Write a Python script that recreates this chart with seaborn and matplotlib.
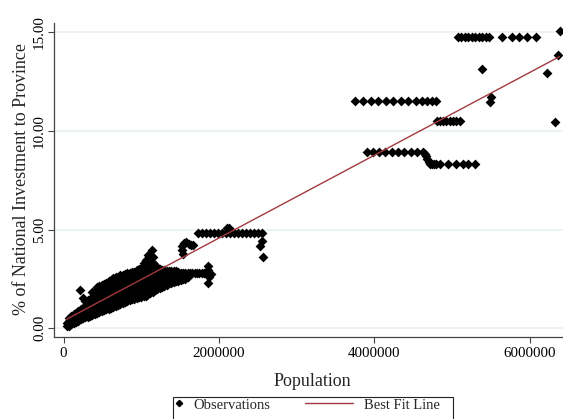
import matplotlib
matplotlib.use("Agg")
import matplotlib.pyplot as plt
import pandas as pd
import seaborn as sns
from matplotlib.lines import Line2D
from matplotlib.patches import Rectangle

# ---------------- data ----------------
# dense cluster of small provinces: population -> shares observed
cluster = {
    40000: [0.10, 0.28],
    70000: [0.14, 0.35, 0.52],
    100000: [0.20, 0.40, 0.60],
    130000: [0.26, 0.48, 0.70],
    160000: [0.32, 0.55, 0.78],
    190000: [0.38, 0.62, 0.88],
    210000: [1.92],
    220000: [0.45, 0.70, 0.98],
    250000: [0.50, 0.78, 1.05, 1.55],
    280000: [0.55, 0.85, 1.12, 1.40],
    310000: [0.58, 0.88, 1.18, 1.45],
    340000: [0.62, 0.92, 1.22, 1.50],
    370000: [0.68, 0.95, 1.25, 1.55, 1.85],
    400000: [0.72, 1.00, 1.30, 1.60, 1.90],
    430000: [0.78, 1.05, 1.35, 1.65, 1.95, 2.08],
    460000: [0.82, 1.10, 1.40, 1.70, 2.00, 2.12],
    490000: [0.88, 1.15, 1.45, 1.75, 2.05, 2.18],
    520000: [0.92, 1.20, 1.50, 1.80, 2.10, 2.25],
    550000: [0.96, 1.25, 1.55, 1.85, 2.15, 2.30],
    580000: [1.00, 1.30, 1.60, 1.90, 2.20, 2.40],
    610000: [1.05, 1.35, 1.65, 1.95, 2.25, 2.45],
    640000: [1.08, 1.38, 1.68, 1.98, 2.28, 2.55],
    670000: [1.12, 1.42, 1.72, 2.02, 2.32, 2.58],
    700000: [1.18, 1.48, 1.78, 2.08, 2.38, 2.62],
    730000: [1.25, 1.52, 1.82, 2.12, 2.42, 2.68],
    760000: [1.30, 1.58, 1.88, 2.18, 2.48, 2.72],
    790000: [1.34, 1.62, 1.92, 2.22, 2.52, 2.75],
    820000: [1.38, 1.66, 1.96, 2.26, 2.56, 2.78],
    850000: [1.44, 1.72, 2.00, 2.30, 2.60, 2.80],
    880000: [1.48, 1.76, 2.05, 2.35, 2.62, 2.83],
    910000: [1.50, 1.80, 2.10, 2.40, 2.65, 2.86],
    940000: [1.54, 1.84, 2.14, 2.44, 2.72, 2.95],
    970000: [1.57, 1.86, 2.16, 2.46, 2.75, 3.00],
    1000000: [1.60, 1.90, 2.20, 2.50, 2.80, 3.05],
    1030000: [1.63, 1.92, 2.22, 2.52, 2.82, 3.12, 3.30],
    1060000: [1.66, 1.95, 2.25, 2.55, 2.85, 3.15, 3.45],
    1090000: [1.72, 2.00, 2.30, 2.60, 2.90, 3.20, 3.50, 3.72],
    1120000: [1.78, 2.05, 2.35, 2.65, 2.95, 3.25, 3.50],
    1135000: [3.98],
    1150000: [1.85, 2.10, 2.40, 2.70, 3.00, 3.30, 3.62],
    1180000: [1.92, 2.15, 2.45, 2.75, 3.00, 3.20],
    1210000: [1.98, 2.20, 2.50, 2.80, 3.05],
    1240000: [2.02, 2.28, 2.55, 2.82, 3.00],
    1270000: [2.08, 2.32, 2.58, 2.85, 2.98],
    1300000: [2.12, 2.38, 2.62, 2.88, 2.95],
    1330000: [2.20, 2.45, 2.68, 2.90],
    1360000: [2.28, 2.50, 2.72, 2.92],
    1390000: [2.32, 2.55, 2.78, 2.92],
    1420000: [2.35, 2.58, 2.80, 2.90],
    1450000: [2.38, 2.60, 2.82, 2.90],
    1480000: [2.42, 2.62, 2.85],
    1510000: [2.45, 2.65, 2.82],
    1540000: [2.48, 2.68, 2.80],
    1570000: [2.52, 2.72, 2.80],
    1600000: [2.58, 2.79],
}

# mid-sized provinces (individual observations)
mid_pop = [1630000, 1660000, 1690000, 1720000, 1750000, 1780000, 1810000,
           1840000, 1864000, 1864000, 1870000, 1860000, 1900000,
           1520000, 1550000, 1580000, 1610000, 1640000, 1670000, 1530000, 1540000,
           1732000, 1783000, 1835000, 1886000, 1938000, 1989000, 2041000,
           2092000, 2144000, 2195000, 2247000, 2298000, 2350000, 2401000,
           2453000, 2504000, 2556000, 2110000, 2135000,
           2552000, 2530000, 2565000]
mid_share = [2.79, 2.79, 2.79, 2.79, 2.79, 2.79, 2.79,
             2.79, 3.17, 2.95, 2.60, 2.31, 2.75,
             4.18, 4.30, 4.35, 4.28, 4.22, 4.20, 3.98, 3.76,
             4.83, 4.83, 4.83, 4.83, 4.83, 4.83, 4.83,
             4.83, 4.83, 4.83, 4.83, 4.83, 4.83, 4.83,
             4.83, 4.83, 4.83, 5.08, 5.10,
             4.44, 4.17, 3.60]

# large provinces
large_pop = [3753000, 3852000, 3955000, 4053000, 4152000, 4246000, 4341000,
             4439000, 4538000, 4612000, 4684000, 4740000, 4796000,
             4810000, 4850000, 4890000, 4930000, 4970000, 5010000, 5050000, 5100000,
             3910000, 3989000, 4066000, 4139000, 4226000, 4311000, 4388000,
             4470000, 4548000, 4625000,
             4650000, 4668000, 4685000, 4700000,
             4720000, 4745000, 4770000, 4796000, 4848000, 4950000, 5050000,
             5148000, 5210000, 5298000,
             5079000, 5124000, 5169000, 5214000, 5259000, 5304000, 5349000,
             5394000, 5439000, 5478000, 5642000, 5771000, 5868000, 5964000, 6080000,
             5392000, 5500000, 5490000, 6229000, 6371000, 6393000, 6328000]
large_share = [11.54, 11.54, 11.54, 11.54, 11.54, 11.54, 11.54,
               11.54, 11.54, 11.54, 11.54, 11.54, 11.54,
               10.52, 10.52, 10.52, 10.52, 10.52, 10.52, 10.52, 10.52,
               8.95, 8.95, 8.95, 8.95, 8.95, 8.95, 8.95,
               8.95, 8.95, 8.95,
               8.85, 8.72, 8.58, 8.45,
               8.33, 8.33, 8.33, 8.33, 8.33, 8.33, 8.33,
               8.33, 8.33, 8.33,
               14.78, 14.78, 14.78, 14.78, 14.78, 14.78, 14.78,
               14.78, 14.78, 14.78, 14.78, 14.78, 14.78, 14.78, 14.78,
               13.14, 11.74, 11.49, 12.92, 13.85, 15.07, 10.47]

# best-fit line end points
fit_pop = [40000, 6385000]
fit_share = [0.46, 13.77]

x_ticks = [0, 2000000, 4000000, 6000000]
x_tick_labels = ["0", "2000000", "4000000", "6000000"]
y_ticks = [0, 5, 10, 15]
y_tick_labels = ["0.00", "5.00", "10.00", "15.00"]

# ---------------- build table ----------------
pop_all, share_all = [], []
for p, vals in cluster.items():
    for v in vals:
        pop_all.append(p)
        share_all.append(v)
pop_all += mid_pop + large_pop
share_all += mid_share + large_share
df = pd.DataFrame({"population": pop_all, "share": share_all})
fit_df = pd.DataFrame({"population": fit_pop, "share": fit_share})

# ---------------- plot ----------------
sns.set_theme(style="white")
plt.rcParams["font.family"] = ["Liberation Serif", "DejaVu Serif"]

FIT_COLOR = "#a3393e"
fig = plt.figure(figsize=(5.63, 4.19), dpi=100)
ax = fig.add_axes([0.09645, 0.19499, 0.90355, 0.75084])

sns.scatterplot(data=df, x="population", y="share", marker="D", s=25,
                color="black", linewidth=0, ax=ax, legend=False, zorder=3)
sns.lineplot(data=fit_df, x="population", y="share", color=FIT_COLOR,
             lw=1.0, ax=ax, estimator=None, zorder=4)

ax.set_xlim(-118500, 6431000)
ax.set_ylim(-0.456, 15.49)

ax.set_xticks(x_ticks)
ax.set_xticklabels(x_tick_labels)
ax.set_yticks(y_ticks)
ax.set_yticklabels(y_tick_labels, rotation=90, va="center")

ax.yaxis.grid(True, color="#e9f1f2", lw=1.2)
ax.xaxis.grid(False)
ax.set_axisbelow(True)

for s in ["top", "right"]:
    ax.spines[s].set_visible(False)
for s in ["left", "bottom"]:
    ax.spines[s].set_color("#444444")
    ax.spines[s].set_linewidth(0.9)

ax.tick_params(axis="both", direction="out", length=4.5, width=0.8,
               color="#444444", labelsize=10.8, labelcolor="black")
ax.tick_params(axis="x", pad=2.5, bottom=True)
ax.tick_params(axis="y", pad=1.5, left=True)

ax.set_xlabel("Population", fontsize=13)
ax.set_ylabel("% of National Investment to Province", fontsize=13)
ax.xaxis.label.set_verticalalignment("center")
ax.yaxis.label.set_verticalalignment("center")
ax.xaxis.set_label_coords(0.507, -0.141)
ax.yaxis.set_label_coords(-0.064, 0.503)

# legend (two entries placed like the Stata legend)
h1 = Line2D([], [], marker="D", color="black", linestyle="none", markersize=3.2)
h2 = Line2D([], [], color=FIT_COLOR, lw=1.0)
leg_y = 1 - 405 / 419
fig.legend([h1], ["Observations"], loc="center left",
           bbox_to_anchor=(174.5 / 563, leg_y), frameon=False, fontsize=10.5,
           handlelength=0.6, handletextpad=0.67, borderpad=0, borderaxespad=0)
fig.legend([h2], ["Best Fit Line"], loc="center left",
           bbox_to_anchor=(305 / 563, leg_y), frameon=False, fontsize=10.5,
           handlelength=3.31, handletextpad=0.73, borderpad=0, borderaxespad=0)
fig.add_artist(Rectangle((173.3 / 563, -0.1), 280 / 563, 0.1 + (1 - 396.7 / 419),
                         transform=fig.transFigure, fill=False,
                         edgecolor="#222222", lw=0.8, clip_on=False))

fig.savefig("out.png", dpi=100, facecolor="white")
